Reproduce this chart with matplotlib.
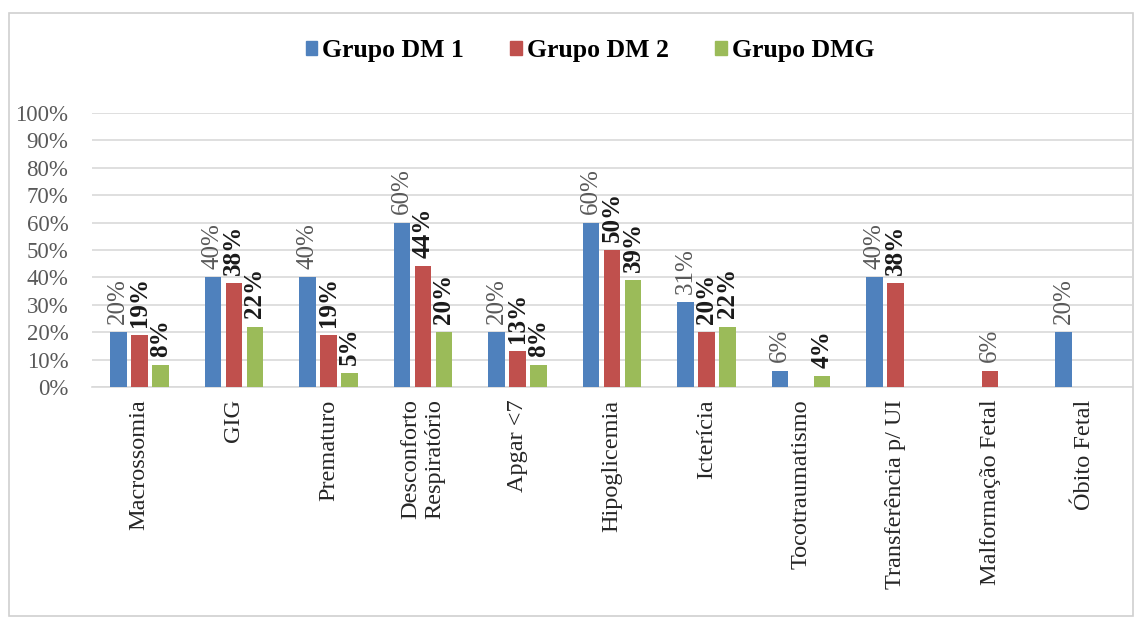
import numpy as np
import matplotlib
matplotlib.use("Agg")
import matplotlib.pyplot as plt
from matplotlib.patches import Rectangle, Patch

categories = ["Macrossomia", "GIG", "Prematuro", "Desconforto\nRespiratório", "Apgar <7",
              "Hipoglicemia", "Icterícia", "Tocotraumatismo", "Transferência p/ UI",
              "Malformação Fetal", "Óbito Fetal"]
series_names = ["Grupo DM 1", "Grupo DM 2", "Grupo DMG"]
dm1 = [20, 40, 40, 60, 20, 60, 31, 6, 40, 0, 20]
dm2 = [19, 38, 19, 44, 13, 50, 20, 0, 38, 6, 0]
dmg = [8, 22, 5, 20, 8, 39, 22, 4, 0, 0, 0]
colors = ["#4F81BD", "#C0504D", "#9BBB59"]
# labels drawn in normal weight (everything else bold)
normal_labels = {(0, i) for i in range(len(categories))} | {(1, 9)}

plt.rcParams["font.family"] = ["Liberation Serif", "DejaVu Serif"]

fig = plt.figure(figsize=(11.36, 6.19), dpi=100)
fig.patches.append(Rectangle((9 / 1136, 3 / 619), 1124 / 1136, 603 / 619,
                             transform=fig.transFigure, fill=False,
                             edgecolor="#D0D0D0", linewidth=1.2))

ax = fig.add_axes([92 / 1136, 1 - 387 / 619, 1040 / 1136, 274 / 619])
x = np.arange(len(categories))
w = 0.175
step = 0.222
for k, vals in enumerate([dm1, dm2, dmg]):
    pos = x + (k - 1) * step
    ax.bar(pos, vals, width=w, color=colors[k], zorder=3)
    for i, v in enumerate(vals):
        if v == 0:
            continue
        bold = (k, i) not in normal_labels
        ax.annotate(f"{v}%", (pos[i], v), xytext=(0, 6), textcoords="offset points",
                    rotation=90, ha="center", va="bottom", fontsize=18,
                    fontweight="bold" if bold else "normal",
                    color="#1a1a1a" if bold else "#595959", zorder=4)

ax.set_xlim(-0.5, len(categories) - 0.5)
ax.set_ylim(0, 100)
ax.set_yticks(np.arange(0, 101, 10))
ax.set_yticklabels([f"{t}%" for t in range(0, 101, 10)])
ax.set_xticks(x)
ax.set_xticklabels(categories, rotation=90, multialignment="right")
ax.tick_params(axis="y", length=0, pad=17, labelsize=16.5, labelcolor="#595959")
ax.tick_params(axis="x", length=0, pad=9, labelsize=17.5, labelcolor="#262626")
ax.grid(axis="y", color="#D9D9D9", linewidth=1.2, zorder=0)
for s in ["top", "right", "left"]:
    ax.spines[s].set_visible(False)
ax.spines["bottom"].set_color("#D9D9D9")
ax.spines["bottom"].set_linewidth(1.2)

handles = [Patch(color=c, label=n) for c, n in zip(colors, series_names)]
fig.legend(handles=handles, loc="center", bbox_to_anchor=(590 / 1136, 1 - 51 / 619),
           ncol=3, frameon=False, prop={"weight": "bold", "size": 18.5},
           handlelength=0.45, handleheight=0.45, handletextpad=0.2, columnspacing=1.8)

fig.savefig("out.png", dpi=100)
